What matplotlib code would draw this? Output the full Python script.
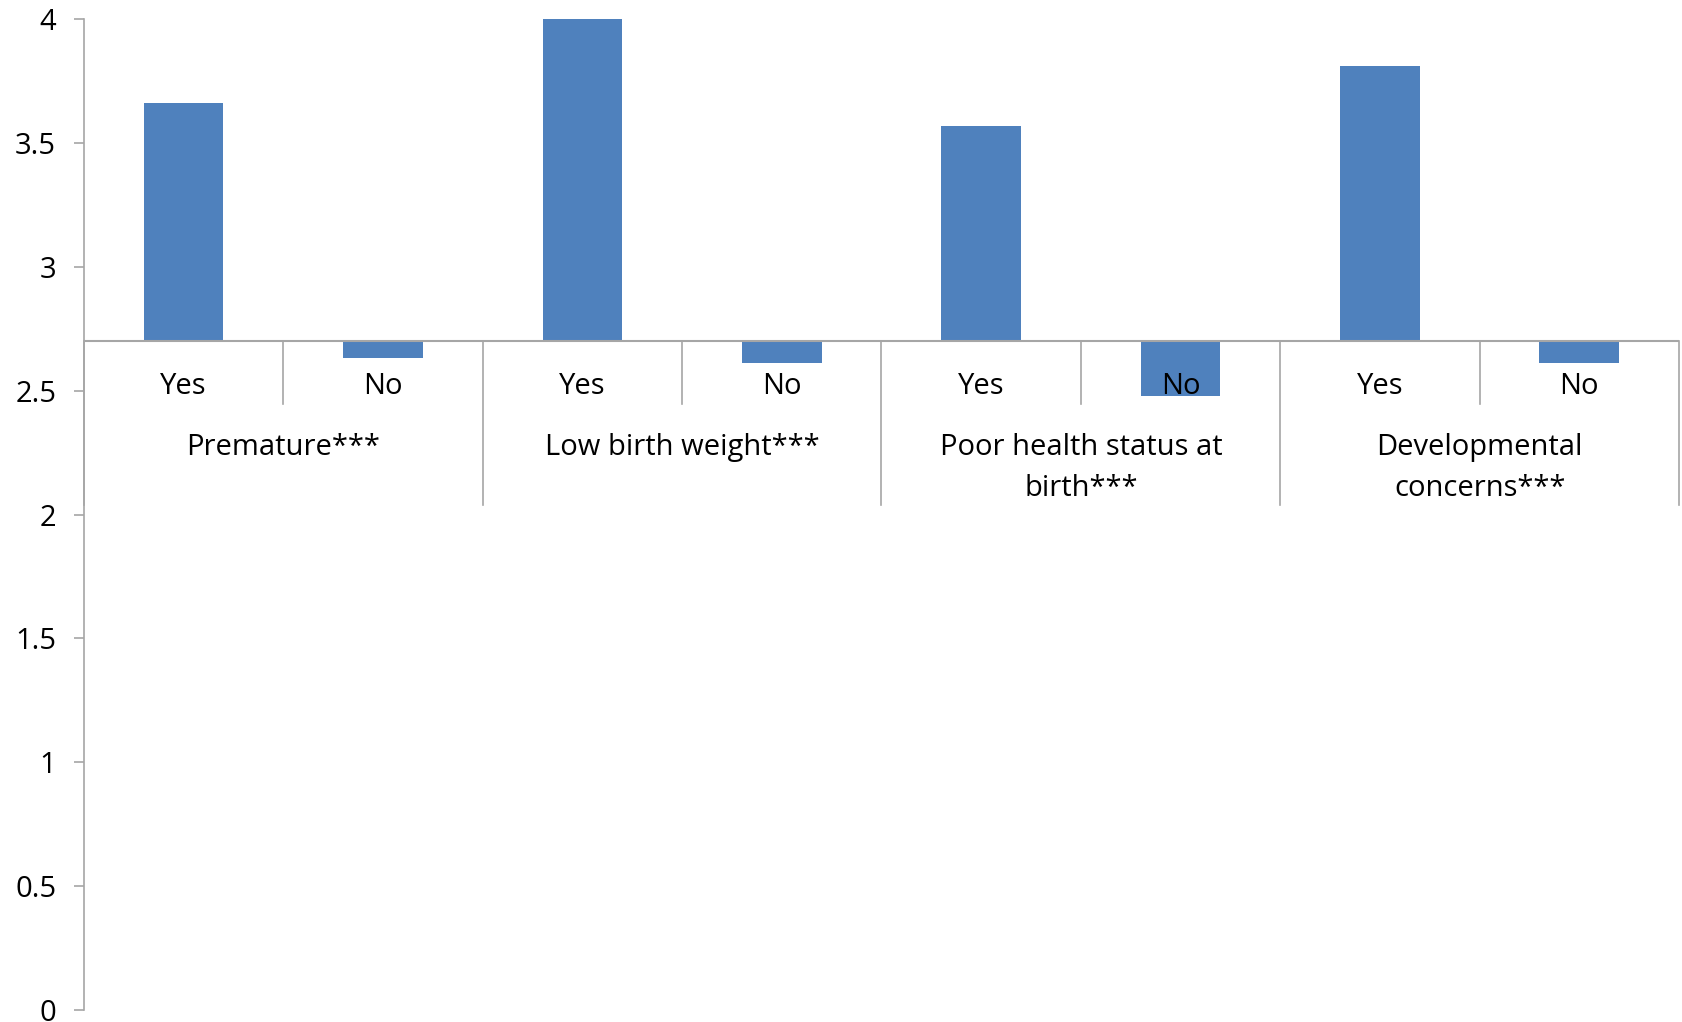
import numpy as np
import matplotlib.pyplot as plt

plt.rcParams['font.family'] = ['Open Sans', 'DejaVu Sans']

groups = ["Premature***", "Low birth weight***", "Poor health status at\nbirth***",
          "Developmental\nconcerns***"]
answers = ["Yes", "No"]
values = [3.66, 2.63, 4.00, 2.61, 3.57, 2.48, 3.81, 2.61]
base = 2.7

yticks = [0, 0.5, 1, 1.5, 2, 2.5, 3, 3.5, 4]
ytick_labels = ["0", "0.5", "1", "1.5", "2", "2.5", "3", "3.5", "4"]

bar_color = "#4F81BD"
axis_color = "#A6A6A6"

fig = plt.figure(figsize=(16.82, 10.22), dpi=100)
ax = fig.add_axes([0.0499, 0.0117, 0.9483, 0.9697])

x = np.arange(len(values))
heights = np.array(values) - base
ax.bar(x, heights, bottom=base, width=0.4, color=bar_color, zorder=2)

ax.set_xlim(-0.5, len(values) - 0.5)
ax.set_ylim(0, 4)
ax.set_xticks([])
ax.set_yticks(yticks)
ax.set_yticklabels(ytick_labels)
ax.tick_params(axis='y', length=7, width=1.2, color=axis_color, pad=13,
               labelsize=21, labelcolor="#000000")

for side in ["top", "right", "bottom"]:
    ax.spines[side].set_visible(False)
ax.spines["left"].set_color(axis_color)
ax.spines["left"].set_linewidth(1.2)

# category axis crossing at the base value
ax.axhline(base, color=axis_color, linewidth=1.5, zorder=3)

# separators between answers and between groups
for i in range(len(values) + 1):
    xpos = i - 0.5
    low = 2.04 if i % 2 == 0 else 2.446
    ax.plot([xpos, xpos], [base, low], color=axis_color, linewidth=1.2,
            zorder=3, clip_on=False)

for i, v in enumerate(values):
    ax.text(i, 2.518, answers[i % 2], ha='center', va='center',
            fontsize=21, zorder=4)

for g, name in enumerate(groups):
    ax.text(2 * g + 0.5, 2.33, name, ha='center', va='top', fontsize=21,
            linespacing=1.55, zorder=4)

fig.savefig("out.png", dpi=100)
